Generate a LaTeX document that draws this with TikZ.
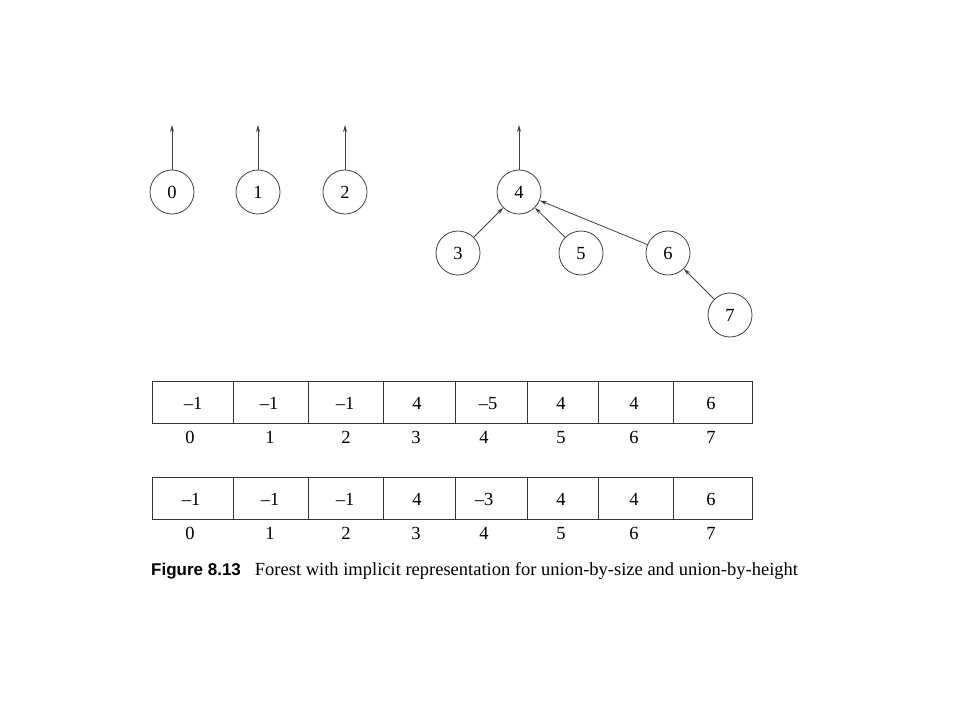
\documentclass[tikz,border=0pt]{standalone}
\usepackage{fontspec}
\setmainfont{Liberation Serif}
\newfontfamily\capsans{Liberation Sans}
\usetikzlibrary{arrows.meta}
\begin{document}
\begin{tikzpicture}[x=1pt,y=-1pt,
  vert/.style={circle,draw=black!75,line width=0.8pt,minimum size=44pt,inner sep=0pt,text height=12.5pt,text depth=0pt,font=\fontsize{18.5}{18.5}\selectfont},
  link/.style={draw=black!75,line width=0.8pt,-{Stealth[length=7pt,width=4pt]}},
  cell/.style={draw=black!80,line width=0.9pt,minimum height=42pt,inner sep=0pt},
  txt/.style={font=\fontsize{18.5}{18.5}\selectfont,inner sep=0pt,text height=12.5pt,text depth=0pt}]
\useasboundingbox (0,0) rectangle (960,720);
% trees
\node[vert] (n0) at (172,192) {0};
\node[vert] (n1) at (258,192) {1};
\node[vert] (n2) at (345,192) {2};
\node[vert] (n4) at (519,192) {4};
\node[vert] (n3) at (458,253) {3};
\node[vert] (n5) at (581,253) {5};
\node[vert] (n6) at (668,253) {6};
\node[vert] (n7) at (730,315) {7};
\coordinate (t0) at (172,125);
\coordinate (t1) at (258,125);
\coordinate (t2) at (345,125);
\coordinate (t4) at (519,125);
\draw[link] (n0) -- (t0);
\draw[link] (n1) -- (t1);
\draw[link] (n2) -- (t2);
\draw[link] (n4) -- (t4);
\draw[link] (n3) -- (n4);
\draw[link] (n5) -- (n4);
\draw[link] (n6) -- (n4);
\draw[link] (n7) -- (n6);
% array 1
\foreach \xa/\xb/\xv/\xi/\v [count=\k from 0] in {152/233/193/190/–1,233/308/269/270/–1,308/383/345/346/–1,383/455/417/416/4,455/527/488/484/–5,527/598/561/561/4,598/673/634/634/4,673/752/711/711/6}{
  \pgfmathsetmacro{\xm}{(\xa+\xb)/2}
  \pgfmathsetmacro{\cw}{\xb-\xa}
  \node[cell,minimum width=\cw pt] (a\k) at (\xm,402) {};
  \node[txt] (av\k) at (\xv,403) {\v};
  \node[txt] (ai\k) at (\xi,437) {\k};
}
% array 2
\foreach \xa/\xb/\xv/\xi/\v [count=\k from 0] in {152/233/191/190/–1,233/308/270/270/–1,308/383/345/346/–1,383/455/417/416/4,455/527/484/484/–3,527/598/561/561/4,598/673/634/634/4,673/752/711/711/6}{
  \pgfmathsetmacro{\xm}{(\xa+\xb)/2}
  \pgfmathsetmacro{\cw}{\xb-\xa}
  \node[cell,minimum width=\cw pt] (b\k) at (\xm,498) {};
  \node[txt] (bv\k) at (\xv,499) {\v};
  \node[txt] (bi\k) at (\xi,533) {\k};
}
% caption
\node[anchor=west,inner sep=0pt] (cap) at (151,571) {{\capsans\bfseries\fontsize{17}{17}\selectfont Figure 8.13}\hspace{14pt}{\fontsize{18.5}{19}\selectfont Forest with implicit representation for union-by-size and union-by-height}};
\end{tikzpicture}
\end{document}
